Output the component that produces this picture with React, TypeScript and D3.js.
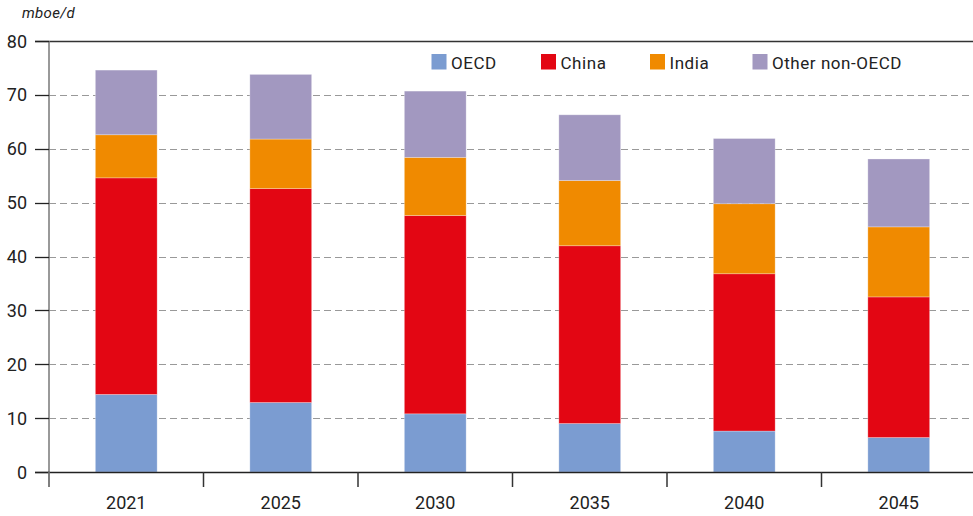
import React from "react";
import * as d3 from "d3";

const years = ["2021", "2025", "2030", "2035", "2040", "2045"];
const seriesNames = ["OECD", "China", "India", "Other non-OECD"];
const oecd = [14.4, 12.9, 10.8, 9.0, 7.6, 6.4];
const china = [40.2, 39.7, 36.8, 33.0, 29.2, 26.1];
const india = [8.0, 9.2, 10.8, 12.1, 13.0, 13.0];
const other = [12.0, 12.0, 12.3, 12.2, 12.1, 12.6];
const yTicks = [0, 10, 20, 30, 40, 50, 60, 70, 80];
const colors = ["#7b9cd1", "#e30613", "#f08a00", "#a298c0"];
const unitLabel = "mboe/d";

const W = 973;
const H = 516;
const left = 49;
const right = 976;
const top = 41;
const bottom = 472;
const FONT = "Roboto, 'DejaVu Sans', sans-serif";

export default function App() {
  const x = d3.scaleBand<string>().domain(years).range([left, right]).paddingInner(0.6).paddingOuter(0.3);
  const y = d3.scaleLinear().domain([0, 80]).range([bottom, top]);
  const rows = years.map((yr, i) => ({
    year: yr,
    OECD: oecd[i],
    China: china[i],
    India: india[i],
    "Other non-OECD": other[i],
  }));
  const stacked = d3.stack<any>().keys(seriesNames)(rows);
  const step = x.step();
  const boundaries = d3.range(years.length).map((i) => left + step * i);

  const legendPos = [431.5, 541, 650, 752.5];

  return (
    <svg width={W} height={H} style={{ position: "absolute", left: 0, top: 0, display: "block" }} fontFamily={FONT}>
      <rect width={W} height={H} fill="#fff" />
      <text x={22} y={18} fontSize={15} fontStyle="italic" fill="#222" letterSpacing={0.3}>{unitLabel}</text>
      {/* grid */}
      {yTicks.filter((t) => t > 0 && t < 80).map((t) => (
        <line key={t} x1={left} x2={W} y1={Math.round(y(t)) + 0.5} y2={Math.round(y(t)) + 0.5} stroke="#999" strokeWidth={1.2} strokeDasharray="7 4" />
      ))}
      {/* bars */}
      {stacked.map((s, si) => (
        <g key={s.key} fill={colors[si]}>
          {s.map((d, i) => (
            <rect key={i} x={x(years[i])} width={x.bandwidth()} y={y(d[1])} height={y(d[0]) - y(d[1])} stroke="#fff" strokeOpacity={0.35} strokeWidth={0.8} />
          ))}
        </g>
      ))}
      {/* top border */}
      <line x1={35} x2={W} y1={Math.round(y(80)) + 0.5} y2={Math.round(y(80)) + 0.5} stroke="#333" strokeWidth={1.3} />
      {/* y axis */}
      <line x1={left} x2={left} y1={top} y2={bottom + 15} stroke="#777" strokeWidth={1.5} />
      {yTicks.map((t) => (
        <g key={t}>
          <line x1={35} x2={left} y1={Math.round(y(t)) + 0.5} y2={Math.round(y(t)) + 0.5} stroke="#222" strokeWidth={1.3} />
          <text x={27} y={y(t) + 6.5} fontSize={18} textAnchor="end" fill="#222">{t}</text>
        </g>
      ))}
      {/* x axis */}
      <line x1={35} x2={W} y1={bottom + 0.5} y2={bottom + 0.5} stroke="#222" strokeWidth={1.3} />
      {boundaries.map((b, i) => (
        <line key={i} x1={b} x2={b} y1={bottom} y2={bottom + 15} stroke={i === 0 ? "#777" : "#333"} strokeWidth={1.5} />
      ))}
      {years.map((yr) => (
        <text key={yr} x={(x(yr) as number) + x.bandwidth() / 2} y={509} fontSize={18} textAnchor="middle" fill="#222">{yr}</text>
      ))}
      {/* legend */}
      {seriesNames.map((n, i) => (
        <g key={n}>
          <rect x={legendPos[i]} y={54} width={15} height={15.5} fill={colors[i]} />
          <text x={legendPos[i] + 19.5} y={68.5} fontSize={17} fill="#222" letterSpacing={0.55}>{n}</text>
        </g>
      ))}
    </svg>
  );
}
